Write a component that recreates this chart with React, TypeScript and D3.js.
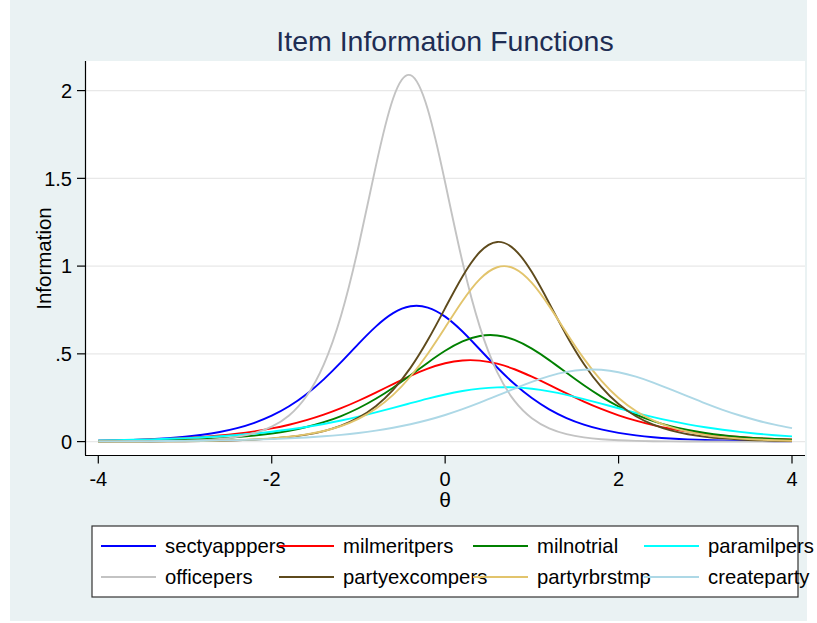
import React from "react";
import * as d3 from "d3";

// θ grid (step 0.2 from -4 to 4)
const thetas: number[] = d3.range(41).map((i) => -4 + i * 0.2);

const sectyapppers = [0.0048,0.0069,0.0098,0.0138,0.0196,0.0277,0.0390,0.0549,0.0769,0.1071,0.1478,0.2015,0.2703,0.3548,0.4527,0.5570,0.6554,0.7322,0.7711,0.7639,0.7122,0.6273,0.5249,0.4221,0.3278,0.2479,0.1838,0.1343,0.0970,0.0695,0.0496,0.0352,0.0249,0.0176,0.0124,0.0088,0.0062,0.0044,0.0031,0.0022,0.0015];
const milmeritpers = [0.0053,0.0070,0.0091,0.0120,0.0157,0.0205,0.0267,0.0348,0.0451,0.0583,0.0751,0.0960,0.1220,0.1533,0.1903,0.2328,0.2793,0.3279,0.3749,0.4159,0.4464,0.4623,0.4614,0.4439,0.4122,0.3698,0.3231,0.2745,0.2282,0.1864,0.1499,0.1192,0.0938,0.0732,0.0569,0.0440,0.0339,0.0260,0.0199,0.0153,0.0117];
const milnotrial = [0.0021,0.0029,0.0040,0.0054,0.0073,0.0100,0.0136,0.0185,0.0252,0.0341,0.0460,0.0620,0.0831,0.1106,0.1458,0.1901,0.2440,0.3073,0.3776,0.4499,0.5174,0.5708,0.6017,0.6047,0.5790,0.5294,0.4642,0.3920,0.3209,0.2561,0.2001,0.1540,0.1169,0.0880,0.0658,0.0489,0.0362,0.0267,0.0197,0.0145,0.0106];
const paramilpers = [0.0066,0.0082,0.0102,0.0128,0.0159,0.0197,0.0244,0.0302,0.0373,0.0458,0.0562,0.0686,0.0832,0.1004,0.1201,0.1421,0.1665,0.1924,0.2189,0.2449,0.2683,0.2880,0.3020,0.3092,0.3088,0.3009,0.2863,0.2662,0.2422,0.2162,0.1898,0.1640,0.1398,0.1179,0.0985,0.0817,0.0672,0.0551,0.0449,0.0365,0.0296];
const officepers = [0.0003,0.0005,0.0009,0.0015,0.0027,0.0048,0.0086,0.0153,0.0272,0.0482,0.0852,0.1493,0.2588,0.4391,0.7189,1.1100,1.5680,1.9550,2.0880,1.8920,1.4760,1.0230,0.6536,0.3959,0.2321,0.1335,0.0760,0.0430,0.0242,0.0137,0.0077,0.0043,0.0024,0.0014,0.0008,0.0004,0.0002,0.0001,0.0001,0.0000,0.0000];
const partyexcompers = [0.0002,0.0004,0.0006,0.0009,0.0013,0.0020,0.0031,0.0048,0.0073,0.0111,0.0170,0.0260,0.0396,0.0601,0.0909,0.1363,0.2019,0.2948,0.4200,0.5786,0.7608,0.9411,1.0802,1.1377,1.0948,0.9657,0.7887,0.6048,0.4417,0.3114,0.2140,0.1446,0.0965,0.0640,0.0422,0.0277,0.0182,0.0119,0.0078,0.0051,0.0033];
const partyrbrstmp = [0.0003,0.0005,0.0008,0.0011,0.0017,0.0025,0.0038,0.0056,0.0084,0.0125,0.0186,0.0277,0.0410,0.0605,0.0889,0.1298,0.1874,0.2664,0.3709,0.5010,0.6501,0.8009,0.9256,0.9936,0.9857,0.9043,0.7718,0.6194,0.4731,0.3478,0.2487,0.1743,0.1204,0.0824,0.0560,0.0379,0.0256,0.0172,0.0116,0.0078,0.0052];
const createparty = [0.0011,0.0014,0.0019,0.0024,0.0031,0.0040,0.0052,0.0067,0.0086,0.0111,0.0142,0.0183,0.0235,0.0301,0.0385,0.0491,0.0623,0.0787,0.0988,0.1230,0.1516,0.1847,0.2216,0.2613,0.3017,0.3400,0.3730,0.3971,0.4096,0.4090,0.3952,0.3700,0.3364,0.2975,0.2576,0.2178,0.1812,0.1486,0.1203,0.0966,0.0769];

const seriesNames = ["sectyapppers","milmeritpers","milnotrial","paramilpers","officepers","partyexcompers","partyrbrstmp","createparty"];
const seriesValues = [sectyapppers, milmeritpers, milnotrial, paramilpers, officepers, partyexcompers, partyrbrstmp, createparty];
const seriesColors = ["#0000ff","#ff0000","#008000","#00ffff","#c3c3c3","#5e4a1c","#e2c46c","#add8e6"];

const yTicks = [0, 0.5, 1, 1.5, 2];
const yTickLabels = ["0", ".5", "1", "1.5", "2"];
const xTicks = [-4, -2, 0, 2, 4];
const xTickLabels = ["-4", "-2", "0", "2", "4"];

const FONT = "'Liberation Sans', Arial, Helvetica, sans-serif";

export default function App() {
  const W = 817, H = 623;
  const plot = { left: 86, right: 805, top: 61, bottom: 455 };
  const x = d3.scaleLinear().domain([-4, 4]).range([98.3, 792]);
  const y = d3.scaleLinear().domain([0, 2]).range([441.6, 90.6]);
  const line = d3
    .line<[number, number]>()
    .x((d) => x(d[0]))
    .y((d) => y(d[1]))
    .curve(d3.curveNatural);

  // legend layout
  const legendCols = [101, 279, 473, 644];
  const legendRows = [546, 577];
  const lineLen = 55;
  const textGap = 9;

  return (
    <svg
      width={W}
      height={H}
      style={{ position: "absolute", left: 0, top: 0, display: "block" }}
      fontFamily={FONT}
    >
      <rect x={0} y={0} width={W} height={H} fill="#ffffff" />
      <rect x={10} y={0} width={797} height={621} fill="#eaf2f3" />
      <rect
        x={plot.left}
        y={plot.top}
        width={plot.right - plot.left}
        height={plot.bottom - plot.top}
        fill="#ffffff"
      />
      {/* title */}
      <text x={445} y={51} textAnchor="middle" fontSize={28.5} fill="#1e2d53">
        Item Information Functions
      </text>
      {/* gridlines */}
      {yTicks.map((t) => (
        <line
          key={"g" + t}
          x1={plot.left}
          x2={plot.right}
          y1={y(t)}
          y2={y(t)}
          stroke="#e8e8e8"
          strokeWidth={1.2}
        />
      ))}
      {/* curves */}
      {seriesValues.map((vals, i) => (
        <path
          key={seriesNames[i]}
          d={line(thetas.map((t, j) => [t, vals[j]] as [number, number])) || ""}
          fill="none"
          stroke={seriesColors[i]}
          strokeWidth={1.9}
        />
      ))}
      {/* axes */}
      <line x1={85.5} x2={85.5} y1={plot.top} y2={plot.bottom} stroke="#000" strokeWidth={1.2} />
      <line x1={85} x2={plot.right} y1={455.5} y2={455.5} stroke="#000" strokeWidth={1.2} />
      {yTicks.map((t, i) => (
        <g key={"yt" + t}>
          <line x1={77} x2={85.5} y1={y(t)} y2={y(t)} stroke="#000" strokeWidth={1.2} />
          <text x={72} y={y(t) + 7.2} textAnchor="end" fontSize={20} fill="#000">
            {yTickLabels[i]}
          </text>
        </g>
      ))}
      {xTicks.map((t, i) => (
        <g key={"xt" + t}>
          <line x1={x(t)} x2={x(t)} y1={455.5} y2={463.5} stroke="#000" strokeWidth={1.2} />
          <text x={x(t)} y={486} textAnchor="middle" fontSize={20} fill="#000">
            {xTickLabels[i]}
          </text>
        </g>
      ))}
      {/* axis titles */}
      <text x={445} y={507} textAnchor="middle" fontSize={21} fill="#000">
        θ
      </text>
      <text
        transform="translate(51,258.5) rotate(-90)"
        textAnchor="middle"
        fontSize={20.5}
        fill="#000"
      >
        Information
      </text>
      {/* legend */}
      <rect x={92} y={526} width={706} height={71} fill="#ffffff" stroke="#333" strokeWidth={1.2} />
      {seriesNames.map((name, i) => {
        const col = i % 4;
        const row = Math.floor(i / 4);
        const lx = legendCols[col];
        const ly = legendRows[row];
        return (
          <g key={"lg" + name}>
            <line x1={lx} x2={lx + lineLen} y1={ly} y2={ly} stroke={seriesColors[i]} strokeWidth={1.9} />
            <text x={lx + lineLen + textGap} y={ly + 6.5} fontSize={20.3} fill="#000">
              {name}
            </text>
          </g>
        );
      })}
    </svg>
  );
}
